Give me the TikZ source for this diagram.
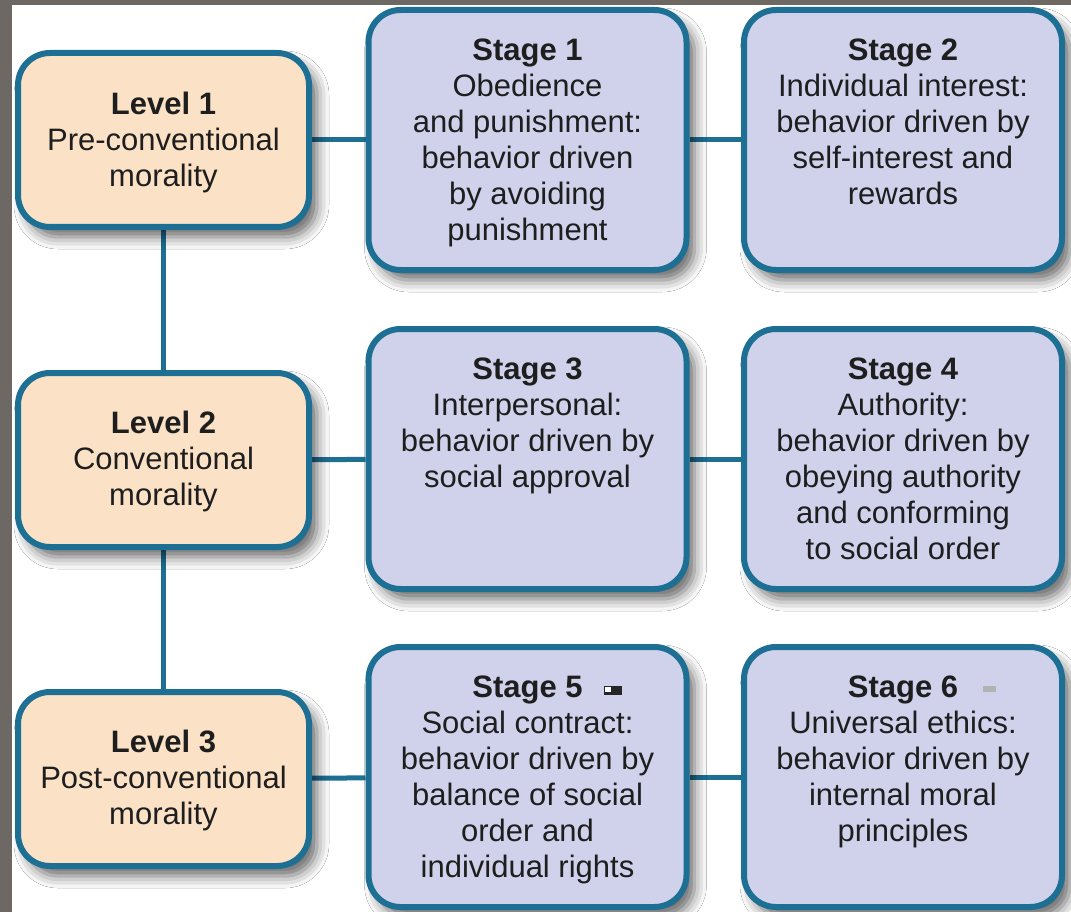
\documentclass[tikz,border=0pt]{standalone}
\usepackage{fontspec}
\setmainfont{Liberation Sans}
\usetikzlibrary{shadows.blur,backgrounds}
\definecolor{edgeblue}{HTML}{1D6F94}
\definecolor{peach}{HTML}{FBE2C7}
\definecolor{lav}{HTML}{CFD2EA}
\definecolor{frame}{HTML}{6E6865}
\definecolor{ink}{HTML}{1E1E1E}
\begin{document}
\begin{tikzpicture}[x=1pt,y=-1pt,
  box/.style={draw=edgeblue, line width=6pt, rounded corners=32pt, inner sep=0pt,
    blur shadow={shadow xshift=8pt, shadow yshift=-10pt, shadow blur radius=12pt, shadow opacity=60}},
  lvlbox/.style={box, fill=peach, minimum width=291pt, minimum height=174pt},
  stgbox/.style={box, fill=lav, minimum width=318pt, minimum height=260pt},
  txt/.style={inner sep=0pt, align=center, text=ink, font=\fontsize{31}{36}\selectfont},
  stgtxt/.style={txt, anchor=north},
  link/.style={draw=edgeblue, line width=5pt}
]
% boxes
\node[lvlbox] (l1) at (163.5,140) {};
\node[lvlbox] (l2) at (163.5,460) {};
\node[lvlbox] (l3) at (163.5,779) {};
\node[stgbox] (s1) at (527.5,140) {};
\node[stgbox] (s2) at (903,140) {};
\node[stgbox] (s3) at (527.5,459) {};
\node[stgbox] (s4) at (903,459) {};
\node[stgbox] (s5) at (527.5,777) {};
\node[stgbox] (s6) at (903,777) {};
% level texts
\node[txt] (l1t) at ([yshift=-2pt]l1.center) {\textbf{Level 1}\\Pre-conventional\\morality};
\node[txt] (l2t) at ([yshift=-1pt]l2.center) {\textbf{Level 2}\\Conventional\\morality};
\node[txt] (l3t) at ([yshift=-1pt]l3.center) {\textbf{Level 3}\\Post-conventional\\morality};
% stage texts
\node[stgtxt] (s1t) at ([yshift=-32pt]s1.north) {\textbf{Stage 1}\\Obedience\\and punishment:\\behavior driven\\by avoiding\\punishment};
\node[stgtxt] (s2t) at ([yshift=-32pt]s2.north) {\textbf{Stage 2}\\Individual interest:\\behavior driven by\\self-interest and\\rewards};
\node[stgtxt] (s3t) at ([yshift=-32pt]s3.north) {\textbf{Stage 3}\\Interpersonal:\\behavior driven by\\social approval};
\node[stgtxt] (s4t) at ([yshift=-32pt]s4.north) {\textbf{Stage 4}\\Authority:\\behavior driven by\\obeying authority\\and conforming\\to social order};
\node[stgtxt] (s5t) at ([yshift=-32pt]s5.north) {\textbf{Stage 5}\\Social contract:\\behavior driven by\\balance of social\\order and\\individual rights};
\node[stgtxt] (s6t) at ([yshift=-32pt]s6.north) {\textbf{Stage 6}\\Universal ethics:\\behavior driven by\\internal moral\\principles};
% small marks beside stage 5 and 6 titles
\fill[black!85] (604,686) rectangle (622,695);
\fill[white] (605,687) rectangle (611,692);
\fill[black!30] (983,686) rectangle (996,692);
\begin{scope}[on background layer]
  \fill[frame] (0,0) rectangle (1071,912);
  \fill[white] (12,5) rectangle (1071,912);
  \draw[link] (l1) -- (s1);
  \draw[link] (s1) -- (s2);
  \draw[link] (l2) -- (s3);
  \draw[link] (s3) -- (s4);
  \draw[link] (l3) -- (s5);
  \draw[link] (s5) -- (s6);
  \draw[link] (l1) -- (l2);
  \draw[link] (l2) -- (l3);
\end{scope}
\useasboundingbox (0,0) rectangle (1071,912);
\end{tikzpicture}
\end{document}
